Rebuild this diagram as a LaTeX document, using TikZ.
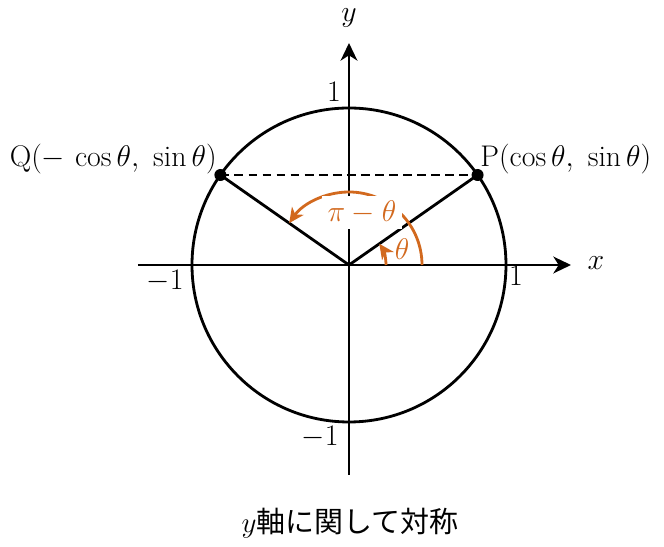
\RequirePackage{fix-cm}
\documentclass[tikz,border=0pt]{standalone}
\usepackage{fontspec}
\newfontfamily\jpfont{Noto Sans CJK JP}
\usetikzlibrary{arrows.meta}
\definecolor{angc}{RGB}{210,105,30}
\begin{document}
\begin{tikzpicture}[x=0.02cm,y=0.02cm,
  font=\fontsize{17}{20}\selectfont,
  thickline/.style={line width=1.6pt},
  axis/.style={line width=1.6pt,-{Stealth[length=10pt,width=9.5pt,inset=3pt]}},
  angarc/.style={line width=1.6pt,draw=angc,-{Stealth[length=8.5pt,width=8pt,inset=2.5pt]}},
  dashline/.style={line width=1.1pt,dash pattern=on 5pt off 3pt},
  lbl/.style={inner sep=0pt},
  dot/.style={circle,fill=black,inner sep=0pt,minimum size=0.24cm}]
\useasboundingbox (-349,-282) rectangle (315,265);
\coordinate (O) at (0,0);
\coordinate (xs) at (-211,0);
\coordinate (xe) at (222,0);
\coordinate (ys) at (0,-210);
\coordinate (ye) at (0,222);
\coordinate (P) at (128.6,90);
\coordinate (Q) at (-128.6,90);
\coordinate (a1) at (73,0);
\coordinate (a2) at (37,0);
% circle
\draw[thickline] (O) circle[radius=157];
% axes
\draw[axis] (xs) -- (xe);
\draw[axis] (ys) -- (ye);
% radii and dashed chord
\draw[thickline] (O) -- (P);
\draw[thickline] (O) -- (Q);
\draw[dashline] (Q) -- (P);
% angle arcs
\draw[angarc] (a1) arc[start angle=0,end angle=145,radius=73];
\draw[angarc] (a2) arc[start angle=0,end angle=35,radius=37];
% labels
\node[fill=white,text=angc,inner xsep=3pt,inner ysep=2.6pt] (pt) at (13,52.5) {$\pi-\theta$};
\node[lbl,text=angc] (th) at (53,16) {$\theta$};
\node[lbl] (xl) at (247,2) {$x$};
\node[lbl] (yl) at (0,247) {$y$};
\node[lbl] (y1) at (-15,173) {$1$};
\node[lbl] (x1) at (167,-11) {$1$};
\node[lbl] (xm1) at (-184,-16) {$-1$};
\node[lbl] (ym1) at (-29,-172) {$-1$};
\node[lbl,anchor=base west] (Pl) at (131,98) {P$(\cos\theta,\ \sin\theta)$};
\node[lbl,anchor=base east] (Ql) at (-132,98) {Q$(-\,\cos\theta,\ \sin\theta)$};
\node[dot] (Pd) at (P) {};
\node[dot] (Qd) at (Q) {};
\node[lbl] (cap) at (1,-258) {\fontsize{16.5}{20}\selectfont $y$\jpfont 軸に関して対称};
\end{tikzpicture}
\end{document}
